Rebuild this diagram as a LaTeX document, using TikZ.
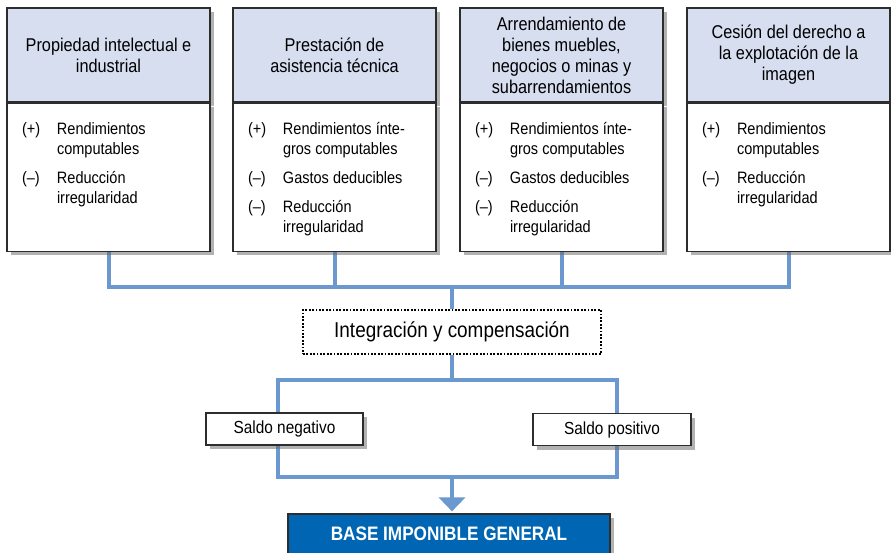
\documentclass[tikz,border=0pt]{standalone}
\usepackage{fontspec}
\setmainfont{Liberation Sans}[FakeStretch=0.88]
\usepackage{array}
\usetikzlibrary{arrows.meta, positioning, shadows, backgrounds}

\definecolor{headfill}{RGB}{214,222,240}
\definecolor{linkblue}{RGB}{108,152,208}
\definecolor{baseblue}{RGB}{0,102,179}
\definecolor{boxline}{RGB}{45,45,45}

\begin{document}
\begin{tikzpicture}[x=1pt, y=-1pt,
	boxshadow/.style={drop shadow={shadow xshift=4pt, shadow yshift=-4pt, fill=black!60, opacity=.5}},
	head/.style={draw=boxline, line width=1.2pt, fill=headfill, minimum width=203pt, minimum height=94pt, inner sep=0pt, align=center, font=\fontsize{18.5}{21}\selectfont, boxshadow},
	body/.style={draw=boxline, line width=1.2pt, fill=white, inner xsep=15pt, inner ysep=0pt, text height=31pt, text depth=117pt, font=\fontsize{16.5}{20}\selectfont, boxshadow},
	saldo/.style={draw=boxline, line width=1.2pt, fill=white, minimum height=32pt, inner sep=0pt, font=\fontsize{17.5}{20}\selectfont, boxshadow},
	integ/.style={draw=black, line width=1.8pt, dash pattern=on 1.8pt off 1.6pt, minimum width=298pt, minimum height=44pt, inner sep=0pt, font=\fontsize{21.5}{25}\selectfont},
	result/.style={draw=boxline, line width=1.2pt, fill=baseblue, text=white, minimum width=322pt, minimum height=40pt, inner sep=0pt, font=\fontsize{19.5}{22}\selectfont\bfseries, boxshadow},
	link/.style={draw=linkblue, line width=4pt}]
	\useasboundingbox (0,0) rectangle (891,552);

	\node[head]					(h1) at (108.5,55) {Propiedad intelectual e\\industrial};
	\node[head]					(h2) at (334.5,55) {Prestación de\\asistencia técnica};
	\node[head]					(h3) at (561.5,55) {Arrendamiento de\\bienes muebles,\\negocios o minas y\\subarrendamientos};
	\node[head]					(h4) at (788.5,55) {Cesión del derecho a\\la explotación de la\\imagen};

	\node[body, below=0pt of h1]	(b1) {\begin{tabular}[t]{@{}p{35pt}@{}p{138pt}@{}}
		(+) & Rendimientos\\
		    & computables\\[9pt]
		(–) & Reducción\\
		    & irregularidad
	\end{tabular}};
	\node[body, below=0pt of h2]	(b2) {\begin{tabular}[t]{@{}p{35pt}@{}p{138pt}@{}}
		(+) & Rendimientos ínte-\\
		    & gros computables\\[9pt]
		(–) & Gastos deducibles\\[9pt]
		(–) & Reducción\\
		    & irregularidad
	\end{tabular}};
	\node[body, below=0pt of h3]	(b3) {\begin{tabular}[t]{@{}p{35pt}@{}p{138pt}@{}}
		(+) & Rendimientos ínte-\\
		    & gros computables\\[9pt]
		(–) & Gastos deducibles\\[9pt]
		(–) & Reducción\\
		    & irregularidad
	\end{tabular}};
	\node[body, below=0pt of h4]	(b4) {\begin{tabular}[t]{@{}p{35pt}@{}p{138pt}@{}}
		(+) & Rendimientos\\
		    & computables\\[9pt]
		(–) & Reducción\\
		    & irregularidad
	\end{tabular}};

	\node[integ]					(integ) at (452,332) {Integración y compensación};
	\node[saldo, minimum width=157pt]	(neg) at (284.5,429) {Saldo negativo};
	\node[saldo, minimum width=158pt]	(pos) at (612,429.5) {Saldo positivo};
	\node[result]					(base) at (449,534) {BASE IMPONIBLE GENERAL};

	\coordinate (bus) at (452,287);
	\coordinate (split) at (452,380);
	\coordinate (join) at (452,477);

	\begin{scope}[on background layer]
		\draw[link] (b1.south) |- (bus) -| (b4.south);
		\draw[link] (b2.south) -- (b2.south |- bus);
		\draw[link] (b3.south) -- (b3.south |- bus);
		\draw[link] (bus) -- (integ);
		\draw[link] (integ) -- (split);
		\draw[link] ([xshift=-7pt]neg.center) |- (split) -| ([xshift=5pt]pos.center);
		\draw[link] ([xshift=-7pt]neg.center) |- (join) -| ([xshift=5pt]pos.center);
		\draw[link, -{Triangle[width=26pt,length=14pt]}, shorten >=2pt] (join) -- (join |- base.north);
	\end{scope}
\end{tikzpicture}
\end{document}
